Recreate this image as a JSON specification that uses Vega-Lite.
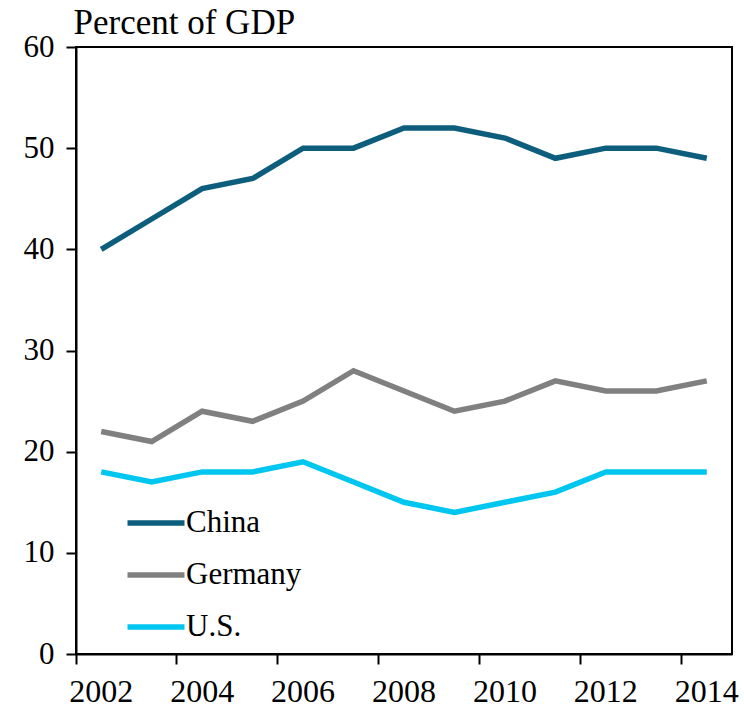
{
  "$schema": "https://vega.github.io/schema/vega-lite/v6.json",
  "autosize": "none",
  "width": 656,
  "height": 607,
  "padding": {"left": 76, "top": 47, "right": 12, "bottom": 57},
  "background": "white",
  "config": {
    "font": "Liberation Serif, Times New Roman, serif",
    "view": {"stroke": "black", "strokeWidth": 2}
  },
  "data": {
    "values": [
      {"year": "2002", "country": "China", "value": 40},
      {"year": "2003", "country": "China", "value": 43},
      {"year": "2004", "country": "China", "value": 46},
      {"year": "2005", "country": "China", "value": 47},
      {"year": "2006", "country": "China", "value": 50},
      {"year": "2007", "country": "China", "value": 50},
      {"year": "2008", "country": "China", "value": 52},
      {"year": "2009", "country": "China", "value": 52},
      {"year": "2010", "country": "China", "value": 51},
      {"year": "2011", "country": "China", "value": 49},
      {"year": "2012", "country": "China", "value": 50},
      {"year": "2013", "country": "China", "value": 50},
      {"year": "2014", "country": "China", "value": 49},
      {"year": "2002", "country": "Germany", "value": 22},
      {"year": "2003", "country": "Germany", "value": 21},
      {"year": "2004", "country": "Germany", "value": 24},
      {"year": "2005", "country": "Germany", "value": 23},
      {"year": "2006", "country": "Germany", "value": 25},
      {"year": "2007", "country": "Germany", "value": 28},
      {"year": "2008", "country": "Germany", "value": 26},
      {"year": "2009", "country": "Germany", "value": 24},
      {"year": "2010", "country": "Germany", "value": 25},
      {"year": "2011", "country": "Germany", "value": 27},
      {"year": "2012", "country": "Germany", "value": 26},
      {"year": "2013", "country": "Germany", "value": 26},
      {"year": "2014", "country": "Germany", "value": 27},
      {"year": "2002", "country": "U.S.", "value": 18},
      {"year": "2003", "country": "U.S.", "value": 17},
      {"year": "2004", "country": "U.S.", "value": 18},
      {"year": "2005", "country": "U.S.", "value": 18},
      {"year": "2006", "country": "U.S.", "value": 19},
      {"year": "2007", "country": "U.S.", "value": 17},
      {"year": "2008", "country": "U.S.", "value": 15},
      {"year": "2009", "country": "U.S.", "value": 14},
      {"year": "2010", "country": "U.S.", "value": 15},
      {"year": "2011", "country": "U.S.", "value": 16},
      {"year": "2012", "country": "U.S.", "value": 18},
      {"year": "2013", "country": "U.S.", "value": 18},
      {"year": "2014", "country": "U.S.", "value": 18}
    ]
  },
  "mark": {"type": "line", "strokeWidth": 5.5},
  "encoding": {
    "x": {
      "field": "year",
      "type": "ordinal",
      "scale": {"type": "band", "paddingInner": 0, "paddingOuter": 0},
      "axis": {
        "title": null,
        "bandPosition": 0,
        "values": ["2002", "2004", "2006", "2008", "2010", "2012", "2014"],
        "labelAngle": 0,
        "labelFont": "Liberation Serif, Times New Roman, serif",
        "labelFontSize": 32,
        "labelColor": "black",
        "labelPadding": 12,
        "tickSize": 10,
        "tickColor": "black",
        "tickWidth": 2,
        "domainColor": "black",
        "domainWidth": 2,
        "grid": false
      }
    },
    "y": {
      "field": "value",
      "type": "quantitative",
      "scale": {"domain": [0, 60], "nice": false},
      "axis": {
        "values": [0, 10, 20, 30, 40, 50, 60],
        "title": "Percent of GDP",
        "titleAngle": 0,
        "titleX": -3,
        "titleY": -14,
        "titleAlign": "left",
        "titleBaseline": "alphabetic",
        "titleFont": "Liberation Serif, Times New Roman, serif",
        "titleFontSize": 35,
        "titleFontWeight": "normal",
        "titleColor": "black",
        "labelFont": "Liberation Serif, Times New Roman, serif",
        "labelFontSize": 31,
        "labelColor": "black",
        "labelPadding": 12,
        "tickSize": 10,
        "tickColor": "black",
        "tickWidth": 2,
        "domainColor": "black",
        "domainWidth": 2,
        "grid": false
      }
    },
    "color": {
      "field": "country",
      "type": "nominal",
      "scale": {"domain": ["China", "Germany", "U.S."], "range": ["#0D5E7D", "#808080", "#00C6F0"]},
      "legend": {
        "title": null,
        "orient": "none",
        "legendX": 63,
        "legendY": 459,
        "padding": 0,
        "symbolType": "M-2,0L2,0",
        "symbolSize": 812,
        "symbolStrokeWidth": 5.5,
        "labelFont": "Liberation Serif, Times New Roman, serif",
        "labelFontSize": 31,
        "labelColor": "black",
        "labelOffset": 13,
        "rowPadding": 20
      }
    }
  }
}
